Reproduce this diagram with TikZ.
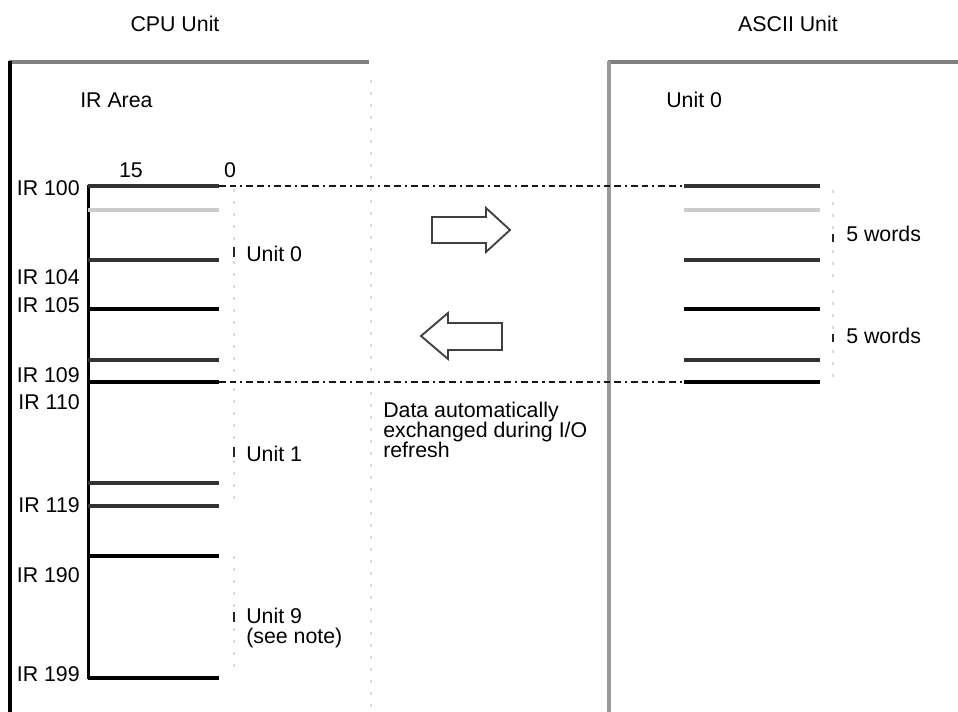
\documentclass[tikz,border=0pt]{standalone}
\usepackage{fontspec}
\setmainfont{Liberation Sans}
\usetikzlibrary{positioning}

\begin{document}
\begin{tikzpicture}[
  x=0.75pt,y=-0.75pt,
  every node/.style={font=\fontsize{16}{15}\selectfont,inner sep=0pt,align=left},
  lbl/.style={anchor=base west},
  irlbl/.style={anchor=base east},
  exchange/.style={line width=2pt,black!90,dash pattern=on 5pt off 3pt on 5pt off 3pt on 1.6pt off 3pt},
  boxtop/.style={line width=2.4pt,black!50},
  faint/.style={line width=1.5pt,black!15,dash pattern=on 2pt off 7pt},
  bracetip/.style={line width=2pt,black!85},
  dataarrow/.style={line width=1.4pt,black!75,line join=miter}
]
\useasboundingbox (0,0) rectangle (958,712);

% unit headings
\node[anchor=base] (cpuunit) at (175,32) {CPU Unit};
\node[anchor=base] (asciiunit) at (788,32) {ASCII Unit};

% unit frames
\draw[boxtop] (9,62) -- (369,62);
\draw[line width=2.6pt] (10,61) -- (10,712);
\draw[faint] (371,80) -- (371,712);
\draw[boxtop] (608,62) -- (958,62);
\draw[line width=2.4pt,black!40] (609,61) -- (609,712);

\node[lbl] (irarea) at (80,108) {IR Area};
\node[lbl] (asciiarea) at (666,108) {Unit 0};

% bit numbers
\node[anchor=base] (bit15) at (131,178) {15};
\node[anchor=base] (bit0) at (230,178) {0};

% IR words in the CPU Unit
\draw[line width=2.4pt] (88.5,185) -- (88.5,679.5);
\foreach \y/\c in {186/black!80,210/black!20,260/black!80,309/black,360/black!80,
                   382/black,483/black!80,506/black!80,556/black,678/black}
  \draw[line width=2.3pt,draw=\c] (88,\y) -- (219,\y);

\node[irlbl] (ir100) at (80,196) {IR 100};
\node[irlbl] (ir104) at (80,285) {IR 104};
\node[irlbl] (ir105) at (80,313) {IR 105};
\node[irlbl] (ir109) at (80,383) {IR 109};
\node[irlbl] (ir110) at (80,410) {IR 110};
\node[irlbl] (ir119) at (80,513) {IR 119};
\node[irlbl] (ir190) at (80,583) {IR 190};
\node[irlbl] (ir199) at (80,682) {IR 199};

% words in the ASCII Unit
\foreach \y/\c in {186/black!80,210/black!20,260/black!80,309/black,360/black!80,382/black}
  \draw[line width=2.3pt,draw=\c] (684,\y) -- (820,\y);

% exchanged area
\draw[exchange] (219,186) -- (684,186);
\draw[exchange] (219,382) -- (684,382);

% unit braces
\foreach \a/\m/\b in {189/252/375,388/452/506,556/617/676}{
  \draw[faint] (234,\a) -- (234,\b);
  \draw[bracetip] (234,\m-5) -- (234,\m+5);
}
\foreach \a/\m/\b in {190/238/283,290/338/382}{
  \draw[faint] (833,\a) -- (833,\b);
  \draw[bracetip] (833,\m-4) -- (833,\m+4);
}

\node[lbl] (unit0) at (246,262) {Unit 0};
\node[lbl] (unit1) at (246,462) {Unit 1};
\node[anchor=north west] (unit9) at (246,607.5) {Unit 9\\(see note)};
\node[lbl] (words0) at (846,242) {5 words};
\node[lbl] (words1) at (846,344) {5 words};

% transfer arrows
\draw[dataarrow] (432,217) -- (486,217) -- (486,208) -- (510,230)
  -- (486,252) -- (486,243) -- (432,243) -- cycle;
\draw[dataarrow] (502,323) -- (448,323) -- (448,313) -- (421,336)
  -- (448,359) -- (448,350) -- (502,350) -- cycle;

\node[anchor=north west] (refresh) at (383,401.5) {Data automatically\\exchanged during I/O\\refresh};
\end{tikzpicture}
\end{document}
